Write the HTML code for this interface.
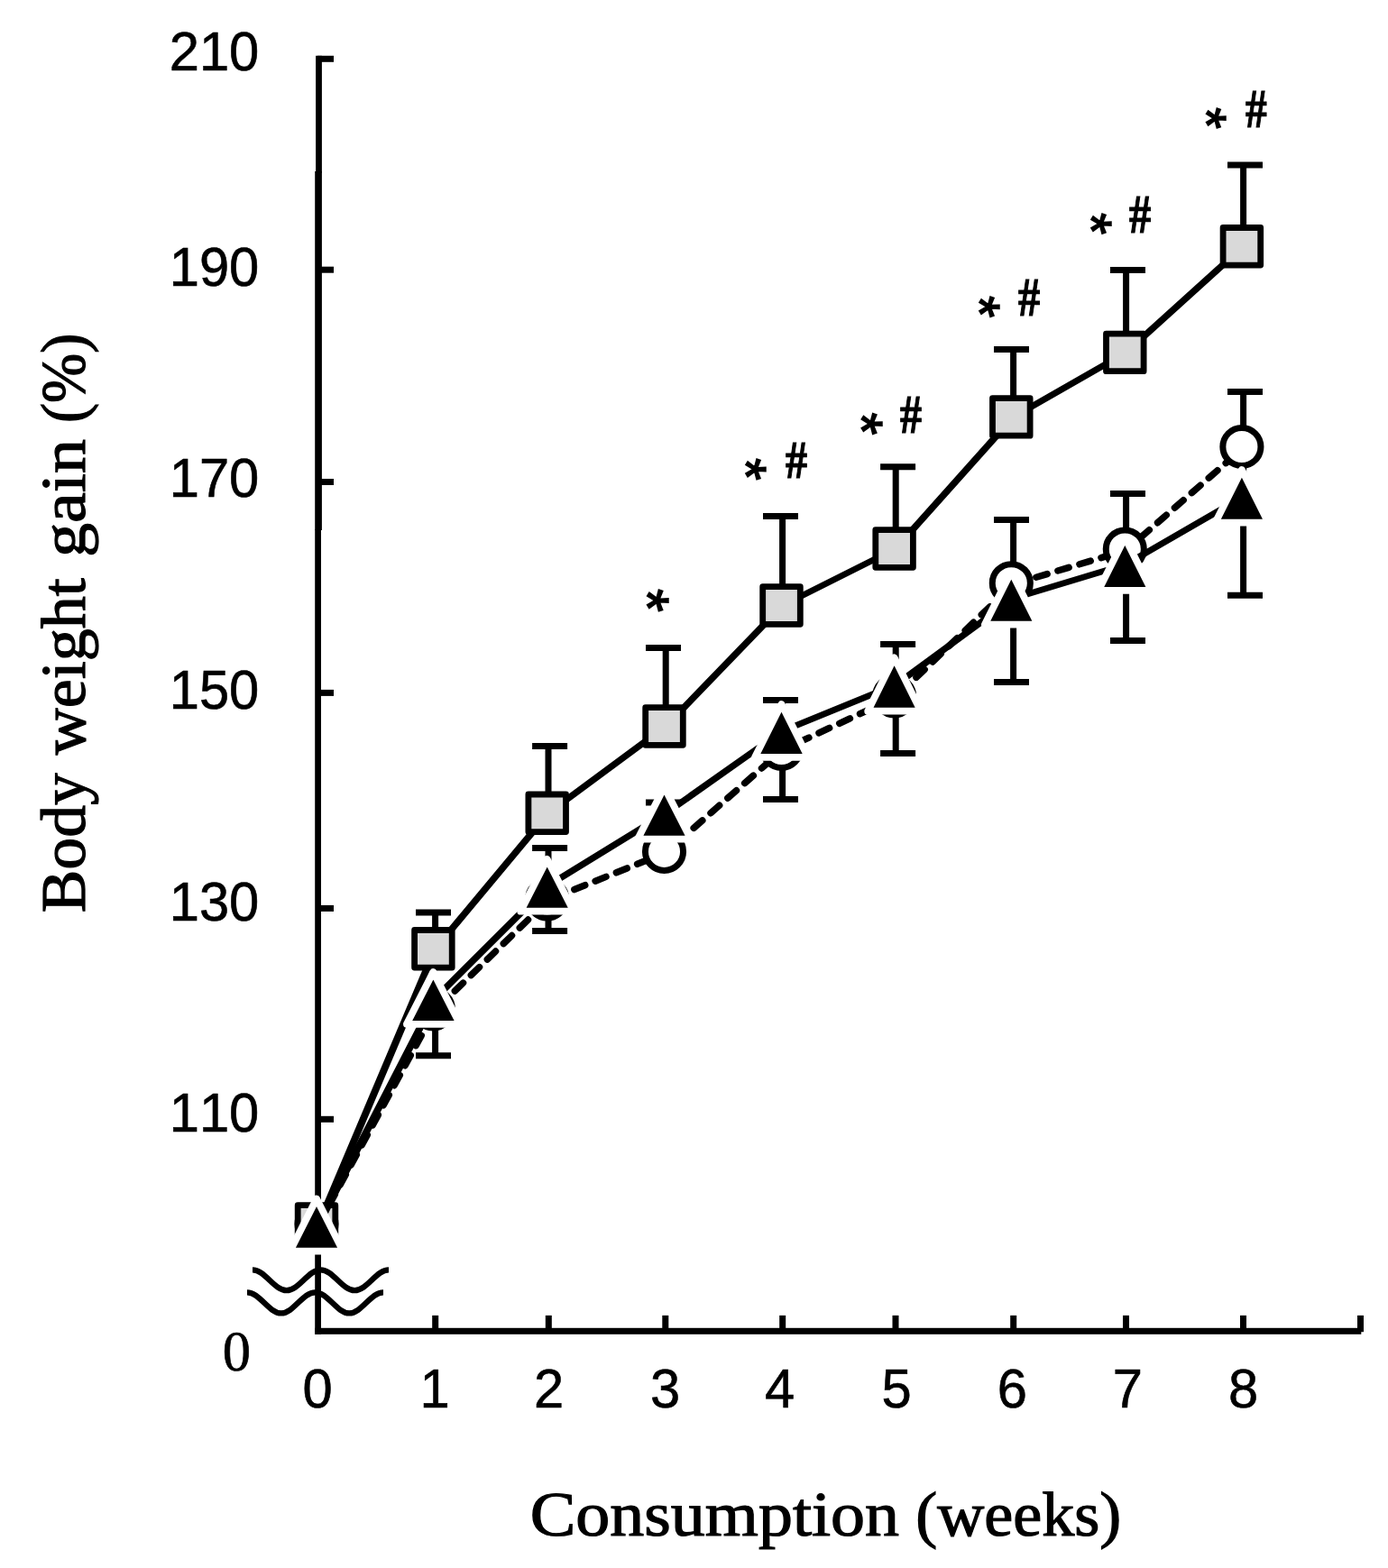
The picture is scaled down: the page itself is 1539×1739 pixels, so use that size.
<!DOCTYPE html>
<html lang="en"><head><meta charset="utf-8"><title>Body weight gain (%) vs Consumption (weeks)</title>
<style>html,body{margin:0;padding:0;background:#fff}body{width:1539px;height:1739px;overflow:hidden}svg{display:block}.sans{font-family:"Liberation Sans",Arial,Helvetica,sans-serif;font-kerning:none}.serif{font-family:"Liberation Serif","Times New Roman",serif}text{fill:#000}</style></head><body>
<svg width="1539" height="1739" viewBox="0 0 1539 1739">
<rect width="1539" height="1739" fill="#fff"/>
<g id="axes" fill="#000">
<rect x="350.1" y="61.8" width="6.8" height="130"/>
<rect x="349.2" y="190" width="7.7" height="398"/>
<rect x="349.2" y="587" width="6.8" height="892.8"/>
<rect x="349.2" y="1472.8" width="1160.1" height="7"/>
<rect x="352" y="61.8" width="18" height="7"/>
<rect x="352" y="295.7" width="18" height="7"/>
<rect x="352" y="531" width="18" height="7"/>
<rect x="352" y="764.9" width="18" height="7"/>
<rect x="352" y="1003.9" width="18" height="7"/>
<rect x="352" y="1237.8" width="18" height="7"/>
<rect x="479.2" y="1458.9" width="7" height="17"/>
<rect x="604.8" y="1458.9" width="7" height="17"/>
<rect x="734.3" y="1458.9" width="7" height="17"/>
<rect x="864.2" y="1458.9" width="7" height="17"/>
<rect x="989.5" y="1458.9" width="7" height="17"/>
<rect x="1120.2" y="1458.9" width="7" height="17"/>
<rect x="1245" y="1458.9" width="7" height="17"/>
<rect x="1375" y="1458.9" width="7" height="17"/>
<rect x="1505" y="1458.9" width="7" height="18.3"/>
</g>
<g id="axis-break" stroke="#000" stroke-width="6.3" fill="none">
<path d="M280 1408.3C293.75 1408.3 304 1431.2 317.75 1431.2C331.5 1431.2 341.75 1408.3 355.5 1408.3C369.25 1408.3 379.5 1431.2 393.25 1431.2C407 1431.2 417.25 1408.3 431 1408.3"/>
<path d="M274 1433.3C287.75 1433.3 298 1456.4 311.75 1456.4C325.5 1456.4 335.75 1433.3 349.5 1433.3C363.25 1433.3 373.5 1456.4 387.25 1456.4C401 1456.4 411.25 1433.3 425 1433.3"/>
</g>
<g id="errorbars" stroke="#000" stroke-width="7" fill="none">
<path d="M461 1012H500 M482.6 1012V1052.3"/>
<path d="M461 1170.8H500 M482.6 1170.8V1119"/>
<path d="M590.1 827.5H629.1 M608 827.5V901.8"/>
<path d="M590.1 940.4H629.1 M608 940.4V997"/>
<path d="M590.1 1032.5H629.1 M608 1032.5V997"/>
<path d="M716 718.6H755 M738.2 718.6V805.5"/>
<path d="M716 890H755 M738.2 890V944.4"/>
<path d="M846 572.5H885 M867.6 572.5V671.5"/>
<path d="M846 776.6H885 M867.6 776.6V830.5"/>
<path d="M846 886.5H885 M867.6 886.5V830.5"/>
<path d="M976.1 517.7H1015.1 M993.2 517.7V608.5"/>
<path d="M976.1 714.5H1015.1 M993.2 714.5V772"/>
<path d="M976.1 835.5H1015.1 M993.2 835.5V772"/>
<path d="M1102 387.6H1141 M1123.6 387.6V462.4"/>
<path d="M1102 576.5H1141 M1123.6 576.5V646.7"/>
<path d="M1102 756.5H1141 M1123.6 756.5V646.7"/>
<path d="M1231 299.6H1270 M1248.6 299.6V390.9"/>
<path d="M1231 547.6H1270 M1248.6 547.6V609"/>
<path d="M1231 710.5H1270 M1248.6 710.5V609"/>
<path d="M1361 183H1400 M1378.6 183V273.3"/>
<path d="M1361 434.5H1400 M1378.6 434.5V495.5"/>
<path d="M1361 660.3H1400 M1378.6 660.3V495.5"/>
</g>
<g id="series-circle">
<polyline points="353.5,1357.5 482.6,1120.2 608,998.2 738.2,945.6 867.6,831.7 993.2,773.2 1123.6,647.9 1248.6,610.2 1378.6,496.7" fill="none" stroke="#000" stroke-width="7.5" stroke-dasharray="12.8 12.3" stroke-dashoffset="0.7" stroke-linecap="round" stroke-linejoin="round"/>
<circle cx="351" cy="1357.5" r="21.05" fill="#fff" stroke="#000" stroke-width="7"/>
<circle cx="480.4" cy="1119" r="21.05" fill="#fff" stroke="#000" stroke-width="7"/>
<circle cx="606.7" cy="997" r="21.05" fill="#fff" stroke="#000" stroke-width="7"/>
<circle cx="736.5" cy="944.4" r="21.05" fill="#fff" stroke="#000" stroke-width="7"/>
<circle cx="866.5" cy="830.5" r="21.05" fill="#fff" stroke="#000" stroke-width="7"/>
<circle cx="991.6" cy="772" r="21.05" fill="#fff" stroke="#000" stroke-width="7"/>
<circle cx="1121.3" cy="646.7" r="21.05" fill="#fff" stroke="#000" stroke-width="7"/>
<circle cx="1247.3" cy="609" r="21.05" fill="#fff" stroke="#000" stroke-width="7"/>
<circle cx="1376.9" cy="495.5" r="21.05" fill="#fff" stroke="#000" stroke-width="7"/>
</g>
<g id="series-square">
<polyline transform="scale(1.21 1)" points="292.15,1357.5 398.84,1052.3 502.48,901.8 610.08,805.5 717.02,671.5 820.83,608.5 928.6,462.4 1031.9,390.9 1139.34,273.3" fill="none" stroke="#000" stroke-width="6.7" stroke-linejoin="round"/>
<rect x="330.2" y="1336.7" width="41.6" height="41.6" fill="#d9d9d9" stroke="#000" stroke-width="6.8" stroke-linejoin="round"/>
<rect x="459.6" y="1031.5" width="41.6" height="41.6" fill="#d9d9d9" stroke="#000" stroke-width="6.8" stroke-linejoin="round"/>
<rect x="585.9" y="881" width="41.6" height="41.6" fill="#d9d9d9" stroke="#000" stroke-width="6.8" stroke-linejoin="round"/>
<rect x="715.7" y="784.7" width="41.6" height="41.6" fill="#d9d9d9" stroke="#000" stroke-width="6.8" stroke-linejoin="round"/>
<rect x="845.7" y="650.7" width="41.6" height="41.6" fill="#d9d9d9" stroke="#000" stroke-width="6.8" stroke-linejoin="round"/>
<rect x="970.8" y="587.7" width="41.6" height="41.6" fill="#d9d9d9" stroke="#000" stroke-width="6.8" stroke-linejoin="round"/>
<rect x="1100.5" y="441.6" width="41.6" height="41.6" fill="#d9d9d9" stroke="#000" stroke-width="6.8" stroke-linejoin="round"/>
<rect x="1226.5" y="370.1" width="41.6" height="41.6" fill="#d9d9d9" stroke="#000" stroke-width="6.8" stroke-linejoin="round"/>
<rect x="1356.1" y="252.5" width="41.6" height="41.6" fill="#d9d9d9" stroke="#000" stroke-width="6.8" stroke-linejoin="round"/>
</g>
<g id="series-triangle">
<polyline transform="scale(1.21 1)" points="292.15,1357.5 398.84,1107.15 502.48,982.05 610.08,902.05 717.02,810.7 820.83,759.4 928.6,663.7 1031.9,625.85 1139.34,550.7" fill="none" stroke="#000" stroke-width="6.7" stroke-linejoin="round"/>
<polygon points="351,1329.57 380.45,1387.7 321.55,1387.7" fill="#000" stroke="#fff" stroke-width="7.8" stroke-linejoin="round"/>
<polygon points="480.4,1078.01 509.87,1135.8 450.93,1135.8" fill="#000" stroke="#fff" stroke-width="7.8" stroke-linejoin="round"/>
<polygon points="606.7,952.91 636.17,1010.7 577.23,1010.7" fill="#000" stroke="#fff" stroke-width="7.8" stroke-linejoin="round"/>
<polygon points="736.5,872.91 765.97,930.7 707.03,930.7" fill="#000" stroke="#fff" stroke-width="7.8" stroke-linejoin="round"/>
<polygon points="866.5,780.98 895.91,839.8 837.09,839.8" fill="#000" stroke="#fff" stroke-width="7.8" stroke-linejoin="round"/>
<polygon points="991.6,729.42 1020.99,788.7 962.21,788.7" fill="#000" stroke="#fff" stroke-width="7.8" stroke-linejoin="round"/>
<polygon points="1121.3,634.11 1150.72,692.7 1091.88,692.7" fill="#000" stroke="#fff" stroke-width="7.8" stroke-linejoin="round"/>
<polygon points="1247.3,596.19 1276.72,654.9 1217.88,654.9" fill="#000" stroke="#fff" stroke-width="7.8" stroke-linejoin="round"/>
<polygon points="1376.9,521.11 1406.32,579.7 1347.48,579.7" fill="#000" stroke="#fff" stroke-width="7.8" stroke-linejoin="round"/>
</g>
<g id="ylabels" class="sans" font-size="60.6" text-anchor="end" stroke="#000" stroke-width="0.6" lengthAdjust="spacingAndGlyphs">
<text x="287.3" y="78" textLength="99.6" lengthAdjust="spacingAndGlyphs">210</text>
<text x="287.3" y="317.3" textLength="99.6" lengthAdjust="spacingAndGlyphs">190</text>
<text x="287.3" y="551.1" textLength="99.6" lengthAdjust="spacingAndGlyphs">170</text>
<text x="287.3" y="786" textLength="99.6" lengthAdjust="spacingAndGlyphs">150</text>
<text x="287.3" y="1020.6" textLength="99.6" lengthAdjust="spacingAndGlyphs">130</text>
<text x="287.3" y="1255.1" textLength="99.6" lengthAdjust="spacingAndGlyphs">110</text>
</g>
<g id="xlabels" class="sans" font-size="60.6" text-anchor="middle" stroke="#000" stroke-width="0.6">
<text x="352.1" y="1560.6" textLength="33.2" lengthAdjust="spacingAndGlyphs">0</text>
<text x="482.2" y="1560.6" textLength="33.2" lengthAdjust="spacingAndGlyphs">1</text>
<text x="608.6" y="1560.6" textLength="33.2" lengthAdjust="spacingAndGlyphs">2</text>
<text x="737.6" y="1560.6" textLength="33.2" lengthAdjust="spacingAndGlyphs">3</text>
<text x="864.7" y="1560.6" textLength="33.2" lengthAdjust="spacingAndGlyphs">4</text>
<text x="994.1" y="1560.6" textLength="33.2" lengthAdjust="spacingAndGlyphs">5</text>
<text x="1122.3" y="1560.6" textLength="33.2" lengthAdjust="spacingAndGlyphs">6</text>
<text x="1250.4" y="1560.6" textLength="33.2" lengthAdjust="spacingAndGlyphs">7</text>
<text x="1378.6" y="1560.6" textLength="33.2" lengthAdjust="spacingAndGlyphs">8</text>
</g>
<text id="zero" class="serif" font-size="64" stroke="#000" stroke-width="0.7" x="246.7" y="1519.6" textLength="31.29" lengthAdjust="spacingAndGlyphs">0</text>
<text id="xtitle" class="serif" font-size="69.5" stroke="#000" stroke-width="1.2" y="1703.3">
<tspan x="587.66" textLength="409.45" lengthAdjust="spacingAndGlyphs">Consumption</tspan>
<tspan x="1015.26" textLength="228.1" lengthAdjust="spacingAndGlyphs">(weeks)</tspan>
</text>
<text id="ytitle" class="serif" font-size="70" stroke="#000" stroke-width="1.2" transform="translate(94.2 1010.6) rotate(-90)" y="0">
<tspan x="-1.54" textLength="154.87" lengthAdjust="spacingAndGlyphs">Body</tspan>
<tspan x="173.4" textLength="195.88" lengthAdjust="spacingAndGlyphs">weight</tspan>
<tspan x="392.56" textLength="131.12" lengthAdjust="spacingAndGlyphs">gain</tspan>
<tspan x="541.52" textLength="99.3" lengthAdjust="spacingAndGlyphs">(%)</tspan>
</text>
<g id="significance" stroke="#000">
<text class="sans star" font-size="66.65" stroke-width="1.5" transform="translate(728.95 665.95) rotate(90) translate(-13 34.16)">*</text>
<text class="sans star" font-size="63.83" stroke-width="1.5" transform="translate(838.85 520.55) rotate(90) translate(-12.45 32.71)">*</text>
<text class="serif hash" font-weight="bold" font-size="60.15" stroke-width="1.2" x="871" y="530.1" textLength="24" lengthAdjust="spacingAndGlyphs">#</text>
<text class="sans star" font-size="64.11" stroke-width="1.5" transform="translate(965.8 469.9) rotate(90) translate(-12.5 32.86)">*</text>
<text class="serif hash" font-weight="bold" font-size="61.22" stroke-width="1.2" x="998" y="479.5" textLength="24" lengthAdjust="spacingAndGlyphs">#</text>
<text class="sans star" font-size="62.69" stroke-width="1.5" transform="translate(1097.5 340.2) rotate(90) translate(-12.22 32.13)">*</text>
<text class="serif hash" font-weight="bold" font-size="61.98" stroke-width="1.2" x="1128.99" y="350.4" textLength="24.21" lengthAdjust="spacingAndGlyphs">#</text>
<text class="sans star" font-size="62.27" stroke-width="1.5" transform="translate(1220.45 248.2) rotate(90) translate(-12.14 31.91)">*</text>
<text class="serif hash" font-weight="bold" font-size="60.46" stroke-width="1.2" x="1251.89" y="258.3" textLength="24.21" lengthAdjust="spacingAndGlyphs">#</text>
<text class="sans star" font-size="61.84" stroke-width="1.5" transform="translate(1348.35 131.05) rotate(90) translate(-12.06 31.69)">*</text>
<text class="serif hash" font-weight="bold" font-size="62.29" stroke-width="1.2" x="1380.91" y="141.4" textLength="23.68" lengthAdjust="spacingAndGlyphs">#</text>
</g>
</svg></body></html>
